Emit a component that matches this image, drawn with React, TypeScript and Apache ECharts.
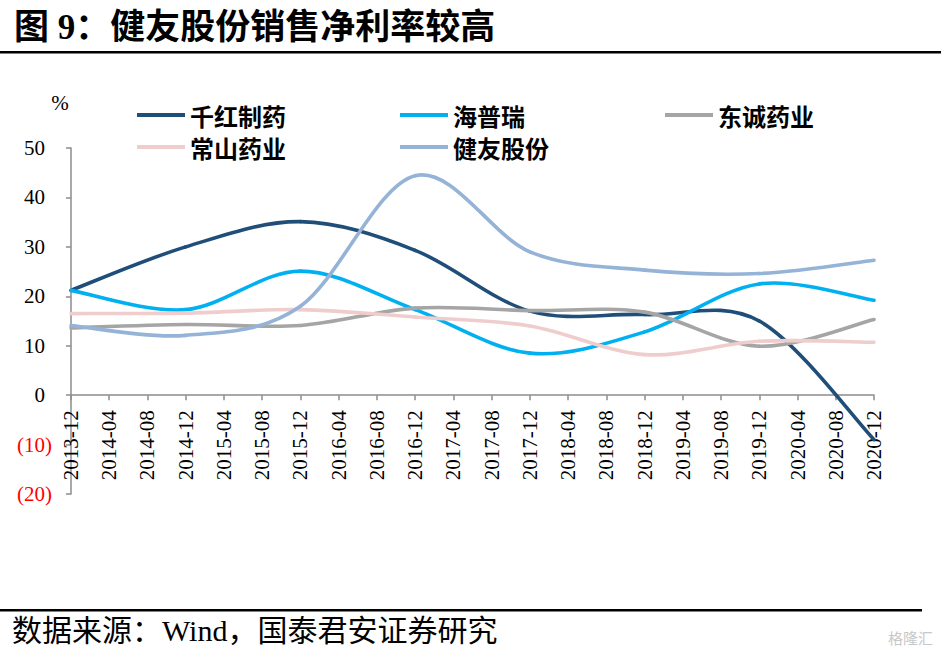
import React, { useEffect, useRef } from "react";
import * as echarts from "echarts";

const xLabels = [
  "2013-12", "2014-04", "2014-08", "2014-12", "2015-04", "2015-08", "2015-12",
  "2016-04", "2016-08", "2016-12", "2017-04", "2017-08", "2017-12", "2018-04",
  "2018-08", "2018-12", "2019-04", "2019-08", "2019-12", "2020-04", "2020-08", "2020-12",
];
const yearEnds = ["2013-12", "2014-12", "2015-12", "2016-12", "2017-12", "2018-12", "2019-12", "2020-12"];

const qianhong = [21.2, 30.0, 35.1, 29.3, 17.0, 16.3, 15.0, -9.0];
const haipurui = [21.2, 17.3, 25.1, 17.3, 8.5, 12.8, 22.5, 19.2];
const dongcheng = [13.6, 14.3, 14.1, 17.6, 17.1, 16.8, 9.9, 15.3];
const changshan = [16.5, 16.6, 17.3, 15.8, 14.0, 8.2, 10.9, 10.7];
const jianyou = [14.1, 12.1, 18.0, 44.4, 29.0, 25.3, 24.6, 27.3];

const seriesNames = ["千红制药", "海普瑞", "东诚药业", "常山药业", "健友股份"];
const seriesValues = [qianhong, haipurui, dongcheng, changshan, jianyou];
const seriesColors = ["#1F4E79", "#00B0F0", "#A5A5A5", "#F0CDCD", "#95B3D7"];

const yMin = -20;
const yMax = 50;

// month offset from 2013-12 of a "YYYY-MM" label
const monthIdx = (l: string) => {
  const [y, m] = l.split("-").map(Number);
  return (y - 2013) * 12 + (m - 12);
};
const toPairs = (vals: number[]) => yearEnds.map((l, i) => [monthIdx(l), vals[i]]);
const labelFor = (v: number) => {
  const hit = xLabels.find((l) => monthIdx(l) === Math.round(v));
  return hit || "";
};

const serif = "'Liberation Serif', 'Times New Roman', serif";
const cjk = "'Liberation Serif', 'Noto Sans CJK SC', sans-serif";

export default function App() {
  const ref = useRef<HTMLDivElement>(null);
  useEffect(() => {
    if (!ref.current) return;
    const chart = echarts.init(ref.current, null, { renderer: "svg" });
    const legendPos = [
      { left: 137, top: 102 },
      { left: 400, top: 102 },
      { left: 665, top: 102 },
      { left: 137, top: 134 },
      { left: 400, top: 134 },
    ];
    const gridTop = 148;
    const gridBottom = 162;
    const gridH = 656 - gridTop - gridBottom;
    const zeroOffset = -(gridH * (0 - yMin)) / (yMax - yMin);
    const lastMonth = monthIdx(xLabels[xLabels.length - 1]);

    const makeRender = (k: number) => (params: any, api: any) => {
      const vals = seriesValues[k];
      const n = vals.length;
      const i = params.dataIndex;
      if (i >= n - 1) return null;
      const pts = yearEnds.map((l, j) => api.coord([monthIdx(l), vals[j]]));
      const p0 = pts[Math.max(i - 1, 0)];
      const p1 = pts[i];
      const p2 = pts[i + 1];
      const p3 = pts[Math.min(i + 2, n - 1)];
      const t = 1 / 6;
      return {
        type: "bezierCurve",
        shape: {
          x1: p1[0],
          y1: p1[1],
          x2: p2[0],
          y2: p2[1],
          cpx1: p1[0] + (p2[0] - p0[0]) * t,
          cpy1: p1[1] + (p2[1] - p0[1]) * t,
          cpx2: p2[0] - (p3[0] - p1[0]) * t,
          cpy2: p2[1] - (p3[1] - p1[1]) * t,
        },
        style: { stroke: seriesColors[k], lineWidth: 3.6, fill: "none", lineCap: "round" },
      };
    };

    chart.setOption({
      animation: false,
      backgroundColor: "#ffffff",
      grid: { left: 71, right: 67, top: gridTop, bottom: gridBottom, containLabel: false },
      legend: seriesNames.map((n, i) => ({
        data: [n],
        left: legendPos[i].left,
        top: legendPos[i].top,
        padding: 0,
        icon: "rect",
        itemWidth: 48,
        itemHeight: 4,
        textStyle: {
          fontSize: 24,
          lineHeight: 26,
          fontWeight: "bold",
          color: "#000",
          fontFamily: "'Noto Sans CJK SC', sans-serif",
        },
      })),
      xAxis: {
        type: "value",
        min: 0,
        max: lastMonth,
        interval: 4,
        position: "bottom",
        offset: zeroOffset,
        axisLine: { onZero: false, lineStyle: { color: "#8C8C8C", width: 1.5 } },
        axisTick: { show: true, length: 5, lineStyle: { color: "#8C8C8C", width: 1.5 } },
        axisLabel: {
          rotate: 90,
          margin: 15,
          fontSize: 21,
          fontFamily: serif,
          color: "#000",
          padding: [10, 0, 0, 0],
          showMinLabel: true,
          showMaxLabel: true,
          formatter: (v: number) => labelFor(v),
        },
        splitLine: { show: false },
      },
      yAxis: {
        type: "value",
        min: yMin,
        max: yMax,
        interval: 10,
        axisLine: { show: true, lineStyle: { color: "#8C8C8C", width: 1.5 } },
        axisTick: { show: true, length: 5, lineStyle: { color: "#8C8C8C", width: 1.5 } },
        splitLine: { show: false },
        axisLabel: {
          margin: 19,
          formatter: (v: number) => (v < 0 ? `{r|(${-v})}` : `{a|${v}}{h|)}`),
          rich: {
            a: { fontSize: 21, fontFamily: serif, color: "#000" },
            h: { fontSize: 21, fontFamily: serif, color: "rgba(0,0,0,0)" },
            r: { fontSize: 21, fontFamily: serif, color: "#FF0000" },
          },
        },
      },
      series: seriesNames.map((n, k) => ({
        name: n,
        type: "custom",
        data: toPairs(seriesValues[k]),
        encode: { x: 0, y: 1 },
        renderItem: makeRender(k),
        itemStyle: { color: seriesColors[k] },
      })),
      graphic: [
        {
          type: "text",
          left: 14,
          top: 10,
          style: {
            text: "图 9：健友股份销售净利率较高",
            fontSize: 35,
            fontWeight: "bold",
            fontFamily: cjk,
            fill: "#000",
          },
        },
        {
          type: "rect",
          shape: { x: 0, y: 51, width: 941, height: 2.5 },
          style: { fill: "#000" },
        },
        {
          type: "text",
          x: 60,
          y: 103,
          style: { text: "%", fontSize: 21, fontFamily: serif, fill: "#000", align: "center", verticalAlign: "middle" },
        },
        {
          type: "rect",
          shape: { x: 0, y: 609, width: 922, height: 2.5 },
          style: { fill: "#000" },
        },
        {
          type: "text",
          left: 12,
          top: 615,
          style: {
            text: "数据来源：Wind，国泰君安证券研究",
            fontSize: 30,
            fontFamily: "'Liberation Serif', 'Noto Sans CJK SC', serif",
            fill: "#000",
          },
        },
        {
          type: "text",
          right: 8,
          top: 630,
          style: { text: "格隆汇", fontSize: 15, fontFamily: "'Noto Sans CJK SC', sans-serif", fill: "#C8C8C8" },
        },
      ],
    });
    return () => chart.dispose();
  }, []);
  return (
    <div
      ref={ref}
      style={{ position: "absolute", left: 0, top: 0, width: 941, height: 656, background: "#fff" }}
    />
  );
}
